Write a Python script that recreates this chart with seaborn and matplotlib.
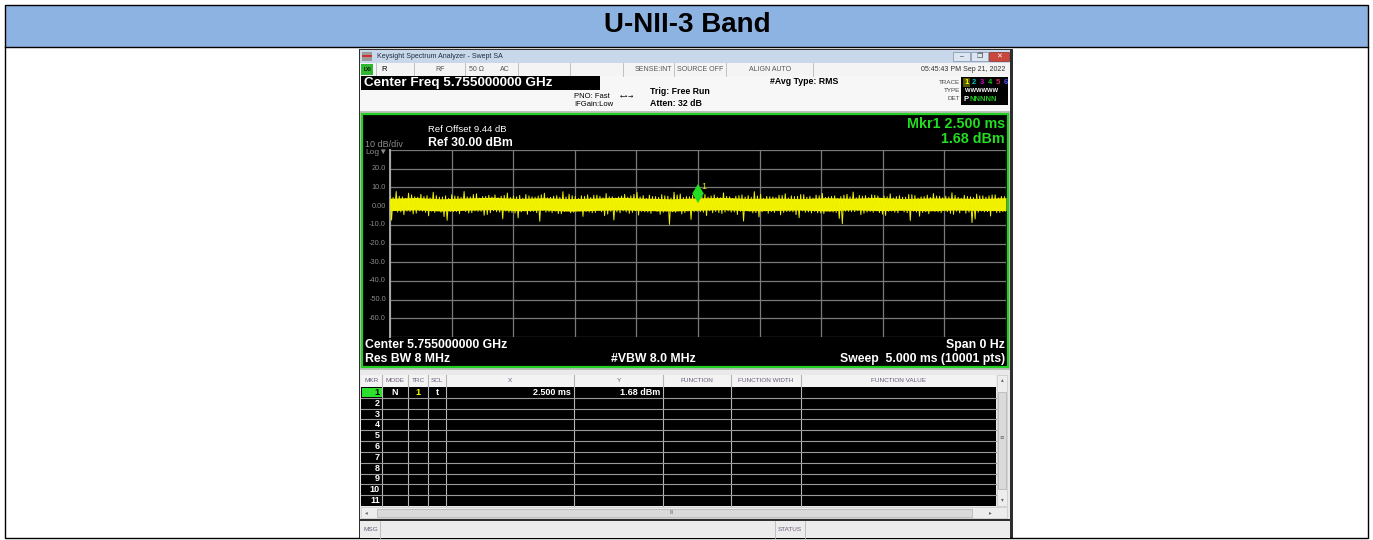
import numpy as np
import seaborn as sns
import matplotlib.pyplot as plt
import matplotlib.transforms as mtransforms
from matplotlib.patches import Rectangle

plt.rcParams['font.family'] = ['Liberation Sans', 'DejaVu Sans']

# ---- data ----
title = "U-NII-3 Band"
t_start, t_stop = 0.0, 5.0          # ms, span 0 Hz sweep
ref_level, bottom_level = 30, -70   # dBm, 10 dB/div
ytick_vals = [20, 10, 0, -10, -20, -30, -40, -50, -60]
ytick_labels = ["20.0", "10.0", "0.00", "-10.0", "-20.0", "-30.0", "-40.0", "-50.0", "-60.0"]
mkr_x = 2.5     # ms
mkr_y = 1.68    # dBm

# noise trace: local maxima / minima (dBm)
peaks = [5.2, 7.8, 4.9, 6.9, 5.0, 6.3, 5.6, 7.4, 4.8, 5.5,
         6.1, 5.3, 7.8, 4.9, 6.6, 5.1, 5.8, 6.0, 5.3, 7.0,
         5.4, 5.7, 6.2, 5.0, 5.4, 6.9, 4.7, 5.6, 7.7, 6.4,
         5.2, 5.5, 6.0, 5.8, 5.2, 6.7, 5.0, 4.9, 6.3, 5.5,
         7.3, 5.6, 5.9, 5.1, 6.1, 5.3, 7.4, 6.5, 5.1, 5.7,
         5.0, 6.2, 5.4, 4.8, 7.1, 5.0, 5.3, 6.0, 5.6, 7.7,
         6.4, 5.2, 4.9, 5.8, 6.6, 5.5, 5.3, 6.1, 5.2, 5.9,
         6.8, 4.9, 5.5, 5.1, 6.3, 7.5, 5.7, 5.6, 6.0, 5.4,
         5.4, 6.5, 5.1, 4.8, 6.2, 5.6, 5.0, 5.9, 6.7, 5.3,
         5.3, 7.1, 4.7, 5.8, 5.0, 6.4, 5.5, 5.5, 6.0, 5.2]
troughs = [-7.5, -3.2, -4.6, -2.9, -3.8, -2.7, -5.2, -3.4, -3.3, -7.6,
           -3.0, -4.1, -2.9, -3.5, -2.8, -4.9, -3.6, -3.0, -6.8, -3.3,
           -3.7, -3.1, -4.4, -2.8, -8.1, -3.2, -3.5, -4.0, -2.9, -3.6,
           -2.7, -5.5, -3.2, -3.4, -3.0, -4.3, -7.4, -3.6, -3.1, -3.4,
           -4.8, -3.1, -3.9, -2.9, -3.3, -9.8, -3.3, -4.2, -2.8, -3.0,
           -3.0, -5.1, -3.6, -3.5, -3.2, -3.2, -4.5, -8.0, -2.7, -3.5,
           -3.1, -3.8, -3.4, -4.7, -2.9, -3.1, -6.2, -3.3, -3.7, -3.6,
           -4.0, -3.0, -3.4, -9.4, -2.8, -3.0, -4.6, -3.2, -3.3, -3.5,
           -5.0, -2.7, -3.6, -3.1, -7.7, -3.2, -3.4, -4.1, -2.9, -3.5,
           -3.0, -4.4, -3.6, -3.8, -8.8, -3.3, -3.1, -5.3, -3.5, -3.0]
peaks_b = [4.6, 5.3, 4.1, 6.0, 4.8, 5.1, 4.4, 5.6, 4.9, 4.2,
           5.4, 4.7, 5.0, 6.2, 4.3, 5.2, 4.9, 4.5, 5.7, 4.6,
           5.0, 4.2, 5.5, 4.8, 6.1, 4.4, 5.3, 4.7, 4.9, 5.6,
           4.1, 5.2, 4.6, 5.8, 4.5, 5.0, 4.3, 5.4, 4.8, 6.3,
           4.9, 4.2, 5.1, 4.7, 5.5, 4.4, 5.9, 4.6, 5.0, 4.3,
           5.3, 4.8, 6.0, 4.5, 5.2, 4.1, 5.6, 4.9, 4.7, 5.4,
           4.2, 5.0, 4.6, 5.7, 4.4, 5.1, 6.2, 4.8, 4.3, 5.5,
           4.7, 5.2, 4.1, 5.9, 4.9, 4.5, 5.3, 4.6, 5.8, 4.2,
           5.0, 4.4, 5.6, 4.8, 6.1, 4.3, 5.1, 4.7, 5.4, 4.5,
           4.9, 5.7, 4.2, 5.2, 4.6, 5.5, 4.8, 6.0, 4.4, 5.1]
troughs_b = [-2.4, -3.1, -2.7, -4.2, -2.5, -3.3, -2.8, -2.6, -5.6, -2.9,
             -3.0, -2.4, -3.7, -2.6, -2.8, -4.5, -2.5, -3.2, -2.7, -3.4,
             -6.3, -2.6, -2.9, -3.5, -2.4, -3.0, -2.8, -4.1, -2.5, -3.3,
             -2.7, -2.9, -3.6, -2.4, -5.1, -2.8, -3.1, -2.6, -3.9, -2.5,
             -2.9, -3.2, -2.4, -4.4, -2.7, -3.0, -2.6, -3.5, -7.1, -2.8,
             -3.3, -2.5, -2.9, -4.0, -2.6, -3.1, -2.8, -2.4, -3.6, -5.8,
             -2.7, -3.0, -2.5, -3.4, -2.9, -4.6, -2.6, -3.1, -2.8, -3.7,
             -2.4, -3.2, -6.6, -2.7, -3.0, -2.5, -3.8, -2.9, -2.6, -4.3,
             -2.8, -3.3, -2.4, -3.5, -2.7, -5.4, -3.0, -2.6, -3.1, -2.5,
             -3.9, -2.8, -2.4, -3.2, -6.9, -2.7, -3.0, -2.6, -3.4, -2.9]
# dense core of the trace
core_hi = [4.2, 4.6, 3.9, 4.4, 4.7, 4.1, 4.5, 4.0, 4.3, 4.7, 4.2, 3.9, 4.4,
           4.6, 4.1, 4.3, 4.0, 4.5, 4.2, 4.7, 4.0, 4.4, 4.3, 4.1, 4.5]
core_lo = [-2.4, -2.0, -2.6, -2.2, -1.9, -2.5, -2.1, -2.7, -2.3, -2.0, -2.4, -2.6, -2.2,
           -1.9, -2.5, -2.3, -2.1, -2.6, -2.0, -2.4, -2.2, -2.5, -2.1, -2.3, -2.4]

table_cols = ["MKR", "MODE", "TRC", "SCL", "X", "Y", "FUNCTION", "FUNCTION WIDTH", "FUNCTION VALUE"]
mkr_rows = [str(i) for i in range(1, 12)]
mkr1 = {"MODE": "N", "TRC": "1", "SCL": "t", "X": "2.500 ms", "Y": "1.68 dBm"}

# ---- figure, background drawn in pixel coordinates ----
W, H = 1373, 540
fig = plt.figure(figsize=(W / 100, H / 100), dpi=100)
bg = fig.add_axes([0, 0, 1, 1])
bg.set_xlim(0, W)
bg.set_ylim(H, 0)
bg.axis('off')


def box(x0, y0, x1, y1, fc, ec='none', lw=0, z=1):
    bg.add_patch(Rectangle((x0, y0), x1 - x0, y1 - y0, facecolor=fc,
                           edgecolor=ec, linewidth=lw, zorder=z))


def txt(x, y, s, size=6, color='black', ha='left', weight='normal', z=5, **kw):
    bg.text(x, y, s, fontsize=size, color=color, ha=ha, va='center',
            fontweight=weight, zorder=z, **kw)


def vline(x, y0, y1, color, lw=0.8, z=3):
    bg.plot([x, x], [y0, y1], color=color, lw=lw, zorder=z)


def hline(y, x0, x1, color, lw=0.8, z=3):
    bg.plot([x0, x1], [y, y], color=color, lw=lw, zorder=z)


# document table
box(5, 5, 1368, 47, '#8DB3E2', z=1)
box(5, 5, 1368, 538, 'none', ec='black', lw=1.0, z=2)
hline(47, 5, 1368, 'black', lw=1.0)
txt(687, 25, title, size=20, weight='bold', ha='center')

# analyzer window frame
box(359, 49, 1013, 539, '#2E2E2E', z=1)
box(360, 50, 1010, 63, '#C8D7E9', z=2)
box(362, 52, 372, 61, '#9A9A9A', z=3)
box(362, 55, 372, 57, '#D03030', z=4)
txt(377, 56.5, "Keysight Spectrum Analyzer - Swept SA", size=5, color='#1E2D40')
box(953, 52, 970, 61, '#DCE6F2', ec='#7A8FA8', lw=0.5, z=3)
box(971, 52, 988, 61, '#DCE6F2', ec='#7A8FA8', lw=0.5, z=3)
box(989, 52, 1009, 61, '#C9483B', ec='#8A3028', lw=0.5, z=3)
txt(961.5, 56.5, "–", size=5, color='#333333', ha='center')
txt(979.5, 56.5, "❐", size=5, color='#333333', ha='center', family=['DejaVu Sans'])
txt(999, 56.5, "✕", size=5, color='white', ha='center', family=['DejaVu Sans'])

# status row
box(360, 63, 1010, 76, '#F4F4F4', z=2)
box(361, 64, 373, 75, '#2FB82F', z=3)
txt(367, 69.5, "LXI", size=3.5, color='black', ha='center', weight='bold')
for sx in [376, 414, 465, 518, 570, 623, 674, 726, 813]:
    vline(sx, 63, 76, '#B8B8B8', lw=0.6)
txt(381, 69.5, "R", size=5.5)
txt(440, 69.5, "RF", size=5, color='#555555', ha='center')
txt(476, 69.5, "50 Ω", size=5, color='#555555', ha='center')
txt(505, 69.5, "AC", size=5, color='#555555', ha='center')
txt(672, 69.5, "SENSE:INT", size=5, color='#555555', ha='right')
txt(677, 69.5, "SOURCE OFF", size=5, color='#555555')
txt(770, 69.5, "ALIGN AUTO", size=5, color='#555555', ha='center')
txt(1005, 69.5, "05:45:43 PM Sep 21, 2022", size=5, color='#333333', ha='right')

# settings area
box(360, 76, 1010, 111, '#F7F7F7', z=2)
box(361, 76, 600, 90, 'black', z=3)
txt(364, 83, "Center Freq 5.755000000 GHz", size=9.7, color='white', weight='bold')
txt(610, 96, "PNO: Fast", size=5.5, ha='right')
txt(613, 105, "IFGain:Low", size=5.5, ha='right')
txt(627, 96, "←•→", size=4.5, ha='center', family=['DejaVu Sans'])
txt(650, 92, "Trig: Free Run", size=6.3, weight='bold')
txt(650, 104, "Atten: 32 dB", size=6.3, weight='bold')
txt(770, 81, "#Avg Type: RMS", size=6.3, weight='bold')
txt(960, 82, "TRACE", size=4.5, color='#444444', ha='right')
txt(960, 90.5, "TYPE", size=4.5, color='#444444', ha='right')
txt(960, 99, "DET", size=4.5, color='#444444', ha='right')
box(961, 77, 1008, 105, 'black', z=3)
box(963, 78, 970, 87, '#555500', z=4)
for i, c in enumerate(['#FFFF00', '#00C8C8', '#D000D0', '#20C020', '#E02060', '#5050FF']):
    txt(966.5 + i * 7.8, 82.5, str(i + 1), size=5.5, color=c, ha='center', weight='bold')
txt(965, 91, "WWWWWW", size=4.2, color='white', weight='bold')
txt(963.5, 99.5, "P", size=5.5, color='white', weight='bold')
txt(970, 99.5, "NNNNN", size=5.5, color='#20C020', weight='bold')

# display area
box(360, 111, 1010, 370, '#BDBDBD', z=2)
box(362, 114, 1008, 367, 'black', ec='#22D022', lw=1.6, z=3)
txt(428, 130, "Ref Offset 9.44 dB", size=6.8, color='white')
txt(428, 143, "Ref 30.00 dBm", size=8.8, color='white', weight='bold')
txt(365, 144.5, "10 dB/div", size=6.5, color='#8C8C8C')
txt(365, 152, "Log▼", size=6, color='#8C8C8C')
txt(1005, 124, "Mkr1 2.500 ms", size=10.3, color='#22DD22', ha='right', weight='bold')
txt(1005, 139, "1.68 dBm", size=10.3, color='#22DD22', ha='right', weight='bold')
txt(365, 345, "Center 5.755000000 GHz", size=8.8, color='white', weight='bold')
txt(365, 359, "Res BW 8 MHz", size=8.8, color='white', weight='bold')
txt(611, 359, "#VBW 8.0 MHz", size=8.8, color='white', weight='bold')
txt(1005, 345, "Span 0 Hz", size=8.8, color='white', ha='right', weight='bold')
txt(1005, 359, "Sweep  5.000 ms (10001 pts)", size=8.8, color='white', ha='right', weight='bold')

# marker table
box(360, 370, 1010, 519, '#E9E9E9', z=2)
col_edges = [361, 382, 408, 428, 446, 574, 663, 731, 801, 996]
box(361, 375, 996, 387, '#F3F3F3', z=3)
box(361, 387, 996, 506, 'black', z=3)
for i, name in enumerate(table_cols):
    txt((col_edges[i] + col_edges[i + 1]) / 2, 381, name, size=4.6,
        color='#6A5C78', ha='center')
for ex in col_edges[1:-1]:
    vline(ex, 375, 506, '#B5B5B5', lw=0.8, z=4)
row_h = (506 - 387) / len(mkr_rows)
for r in range(1, len(mkr_rows)):
    hline(387 + r * row_h, 361, 996, '#9A9A9A', lw=0.8, z=4)
box(362, 387.5, 381.5, 387 + row_h - 0.5, '#2EE02E', z=5)
for r, lab in enumerate(mkr_rows):
    txt(380, 387 + (r + 0.5) * row_h, lab, size=6.5,
        color='black' if r == 0 else 'white', ha='right', weight='bold', z=6)
y1 = 387 + 0.5 * row_h
txt(395, y1, mkr1["MODE"], size=6.5, color='white', ha='center', weight='bold', z=6)
txt(418, y1, mkr1["TRC"], size=6.5, color='#FFFF00', ha='center', weight='bold', z=6)
txt(437, y1, mkr1["SCL"], size=6.5, color='white', ha='center', weight='bold', z=6)
txt(571, y1, mkr1["X"], size=6.5, color='white', ha='right', weight='bold', z=6)
txt(660, y1, mkr1["Y"], size=6.5, color='white', ha='right', weight='bold', z=6)
# scrollbars
box(997, 375, 1007, 506, '#EDEDED', ec='#C8C8C8', lw=0.5, z=3)
box(998, 392, 1006, 489, '#DADADA', ec='#B0B0B0', lw=0.5, z=4)
txt(1002, 380, "▴", size=4, color='#666666', ha='center', family=['DejaVu Sans'])
txt(1002, 500, "▾", size=4, color='#666666', ha='center', family=['DejaVu Sans'])
txt(1002, 437, "≡", size=4, color='#666666', ha='center', family=['DejaVu Sans'])
box(361, 507, 1007, 518, '#EDEDED', ec='#C8C8C8', lw=0.5, z=3)
box(377, 508.5, 972, 516.5, '#DADADA', ec='#B0B0B0', lw=0.5, z=4)
txt(366, 512.5, "◂", size=4, color='#666666', ha='center', family=['DejaVu Sans'])
txt(990, 512.5, "▸", size=4, color='#666666', ha='center', family=['DejaVu Sans'])
txt(672, 512.5, "III", size=3.5, color='#666666', ha='center')
# message bar
box(360, 521, 1010, 538, '#ECECEC', z=2)
vline(380, 521, 538, '#B8B8B8', lw=0.6)
vline(775, 521, 538, '#B8B8B8', lw=0.6)
vline(805, 521, 538, '#B8B8B8', lw=0.6)
txt(363, 529.5, "MSG", size=4.6, color='#6A5C78')
txt(790, 529.5, "STATUS", size=4.6, color='#6A5C78', ha='center')

# ---- graticule + trace ----
gx0, gx1, gy0, gy1 = 390, 1006, 150, 337
ax = fig.add_axes([gx0 / W, 1 - gy1 / H, (gx1 - gx0) / W, (gy1 - gy0) / H])
ax.set_facecolor('black')
ax.set_zorder(10)
ax.set_xlim(t_start, t_stop)
ax.set_ylim(bottom_level, ref_level)
ax.set_xticks(np.linspace(t_start, t_stop, 11))
ax.set_yticks(np.arange(bottom_level, ref_level + 1, 10))
ax.grid(True, color='#7A7A7A', lw=0.9)
ax.set_axisbelow(True)
for s in ax.spines.values():
    s.set_visible(False)
ax.spines['left'].set_visible(True)
ax.spines['left'].set_color('#A8A8A8')
ax.spines['left'].set_linewidth(1.4)
ax.tick_params(length=0, labelbottom=False, labelleft=False)

trace = np.ravel(np.column_stack([peaks, troughs, peaks_b, troughs_b]))
t_trace = np.linspace(t_start, t_stop, len(trace))
t_core = np.linspace(t_start, t_stop, len(core_hi))
ax.fill_between(t_core, core_lo, core_hi, color='#F5F500', lw=0, zorder=3)
sns.lineplot(x=t_trace, y=trace, ax=ax, color='#EEEE00', linewidth=0.7, zorder=4)

for v, lab in zip(ytick_vals, ytick_labels):
    yp = gy0 + (ref_level - v) / (ref_level - bottom_level) * (gy1 - gy0)
    txt(386, yp, lab, size=5.3, color='#8C8C8C', ha='right', z=6)

off = mtransforms.offset_copy(ax.transData, fig=fig, y=6.8, units='points')
ax.scatter([mkr_x], [mkr_y], marker='d', s=95, color='#22DD22',
           edgecolor='none', transform=off, zorder=6, clip_on=False)
ax.annotate("1", (mkr_x, mkr_y), xytext=(4.5, 11.5), textcoords='offset points',
            color='#E8E800', fontsize=6.5, ha='center', va='center', zorder=7)

fig.savefig('out.png', dpi=100)
